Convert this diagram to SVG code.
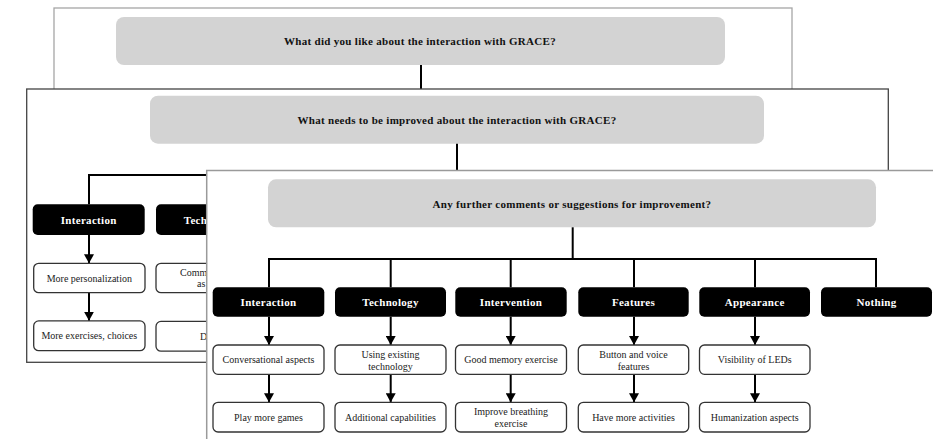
<svg xmlns="http://www.w3.org/2000/svg" width="933" height="439" viewBox="0 0 933 439">
  <defs>
    <marker id="arrow" markerUnits="userSpaceOnUse" markerWidth="10" markerHeight="9" refX="5" refY="8" orient="auto-start-reverse" viewBox="0 0 10 9">
      <path d="M0,0 L10,0 L5,8 Z" transform="rotate(-90 5 4.5) translate(0.5,0.5)" fill="#000"/>
    </marker>
    <marker id="tip" markerUnits="userSpaceOnUse" markerWidth="10" markerHeight="9" refX="5" refY="9" orient="0" viewBox="0 0 10 9">
      <path d="M0,0 L10,0 L5,9 Z" fill="#000"/>
    </marker>
  </defs>
  <style>
    .panel { fill: #fff; }
    .p1 { stroke: #a6a6a6; stroke-width: 1.3; }
    .p2 { stroke: #444; stroke-width: 1.3; }
    .p3 { stroke: #9a9a9a; stroke-width: 1.5; }
    .question { fill: #d3d3d3; }
    .qtext { font-family: "Liberation Serif", "Times New Roman", serif; font-weight: bold; font-size: 11px; letter-spacing: 0.3px; fill: #111; text-anchor: middle; }
    .cat { fill: #000; }
    .cattext { font-family: "Liberation Serif", "Times New Roman", serif; font-weight: bold; font-size: 11px; letter-spacing: 0.3px; fill: #fff; text-anchor: middle; }
    .item { fill: #fff; stroke: #333; stroke-width: 1.3; }
    .itemtext { font-family: "Liberation Serif", "Times New Roman", serif; font-size: 10px; fill: #222; text-anchor: middle; }
    .link { fill: none; stroke: #000; stroke-width: 2; }
    .arr { fill: none; stroke: #000; stroke-width: 2; marker-end: url(#tip); }
  </style>

  <!-- Panel 1: what was liked -->
  <g id="panel-liked">
    <rect class="panel p1" x="54" y="8" width="738" height="120"/>
    <g id="q-liked">
      <rect class="question" x="116" y="17" width="609" height="48" rx="8"/>
      <text class="qtext" x="420" y="45">What did you like about the interaction with GRACE?</text>
    </g>
    <g class="connectors">
      <line class="link" x1="421" y1="65" x2="421" y2="95"/>
    </g>
  </g>

  <!-- Panel 2: what needs improving -->
  <g id="panel-improve">
    <rect class="panel p2" x="26.7" y="89" width="861.6" height="273.3"/>
    <g id="q-improve">
      <rect class="question" x="150" y="95.7" width="614" height="48" rx="8"/>
      <text class="qtext" x="457" y="124">What needs to be improved about the interaction with GRACE?</text>
    </g>
    <g class="connectors">
      <polyline class="link" points="457,143.7 457,175"/>
      <polyline class="link" points="89,204.3 89,175 600,175"/>
      <line class="arr" x1="89" y1="235" x2="89" y2="263.3"/>
      <line class="arr" x1="89" y1="292.7" x2="89" y2="320.7"/>
    </g>
    <g id="p2-interaction">
      <rect class="cat" x="32.7" y="204.3" width="112" height="30.7" rx="5"/>
      <text class="cattext" x="88.7" y="223.5">Interaction</text>
    </g>
    <g id="p2-more-personalization">
      <rect class="item" x="33.7" y="263.3" width="111.3" height="29.4" rx="5"/>
      <text class="itemtext" x="89.3" y="281.5">More personalization</text>
    </g>
    <g id="p2-more-exercises">
      <rect class="item" x="33.7" y="320.9" width="111.3" height="29.8" rx="5"/>
      <text class="itemtext" x="89.3" y="339">More exercises, choices</text>
    </g>
    <g id="p2-technology">
      <rect class="cat" x="156" y="204.3" width="112" height="30.7" rx="5"/>
      <text class="cattext" x="212" y="223.5">Technology</text>
    </g>
    <g id="p2-tech-item1">
      <rect class="item" x="156" y="263.3" width="111.3" height="29.4" rx="5"/>
      <text class="itemtext" x="180" y="276" style="text-anchor:start">Comm</text>
      <text class="itemtext" x="197" y="287" style="text-anchor:start">as</text>
    </g>
    <g id="p2-tech-item2">
      <rect class="item" x="156" y="321.4" width="111.3" height="29.8" rx="5"/>
      <text class="itemtext" x="200" y="339.5" style="text-anchor:start">D</text>
    </g>
  </g>

  <!-- Panel 3: further comments -->
  <g id="panel-further">
    <rect class="panel p3" x="206.7" y="170.5" width="740" height="280"/>
    <g id="q-further">
      <rect class="question" x="268" y="179.3" width="608" height="48" rx="8"/>
      <text class="qtext" x="572" y="208">Any further comments or suggestions for improvement?</text>
    </g>

    <g id="connectors">
      <line class="link" x1="572.7" y1="227.3" x2="572.7" y2="259"/>
      <line class="link" x1="268.5" y1="259" x2="877" y2="259"/>
      <line class="link" x1="269" y1="258" x2="269" y2="287.3"/>
      <line class="link" x1="390.7" y1="258" x2="390.7" y2="287.3"/>
      <line class="link" x1="510.7" y1="258" x2="510.7" y2="287.3"/>
      <line class="link" x1="634" y1="258" x2="634" y2="287.3"/>
      <line class="link" x1="755" y1="258" x2="755" y2="287.3"/>
      <line class="link" x1="876" y1="258" x2="876" y2="287.3"/>
      <line class="arr" x1="269" y1="316.7" x2="269" y2="345"/>
      <line class="arr" x1="269" y1="374.3" x2="269" y2="402.3"/>
      <line class="arr" x1="390.7" y1="316.7" x2="390.7" y2="345"/>
      <line class="arr" x1="390.7" y1="374.3" x2="390.7" y2="402.3"/>
      <line class="arr" x1="510.7" y1="316.7" x2="510.7" y2="345"/>
      <line class="arr" x1="510.7" y1="374.3" x2="510.7" y2="402.3"/>
      <line class="arr" x1="634" y1="316.7" x2="634" y2="345"/>
      <line class="arr" x1="634" y1="374.3" x2="634" y2="402.3"/>
      <line class="arr" x1="755" y1="316.7" x2="755" y2="345"/>
      <line class="arr" x1="755" y1="374.3" x2="755" y2="402.3"/>
    </g>

    <g id="c-interaction">
      <rect class="cat" x="212.7" y="287.3" width="111.6" height="29.4" rx="5"/>
      <text class="cattext" x="268.5" y="306">Interaction</text>
    </g>
    <g id="c-technology">
      <rect class="cat" x="335" y="287.3" width="111" height="29.4" rx="5"/>
      <text class="cattext" x="390.5" y="306">Technology</text>
    </g>
    <g id="c-intervention">
      <rect class="cat" x="455.3" y="287.3" width="111.4" height="29.4" rx="5"/>
      <text class="cattext" x="511" y="306">Intervention</text>
    </g>
    <g id="c-features">
      <rect class="cat" x="578.3" y="287.3" width="110.4" height="29.4" rx="5"/>
      <text class="cattext" x="633.5" y="306">Features</text>
    </g>
    <g id="c-appearance">
      <rect class="cat" x="699.3" y="287.3" width="110.7" height="29.4" rx="5"/>
      <text class="cattext" x="754.7" y="306">Appearance</text>
    </g>
    <g id="c-nothing">
      <rect class="cat" x="821" y="287.3" width="111" height="29.4" rx="5"/>
      <text class="cattext" x="876.5" y="306">Nothing</text>
    </g>

    <g id="i-conversational">
      <rect class="item" x="213" y="345" width="111" height="29.3" rx="5"/>
      <text class="itemtext" x="268.5" y="363">Conversational aspects</text>
    </g>
    <g id="i-play-games">
      <rect class="item" x="213" y="402.3" width="111" height="29.7" rx="5"/>
      <text class="itemtext" x="268.5" y="420.5">Play more games</text>
    </g>
    <g id="i-existing-tech">
      <rect class="item" x="335" y="345" width="111" height="29.3" rx="5"/>
      <text class="itemtext" x="390.5" y="358">Using existing</text>
      <text class="itemtext" x="390.5" y="369.5">technology</text>
    </g>
    <g id="i-capabilities">
      <rect class="item" x="335" y="402.3" width="111" height="29.7" rx="5"/>
      <text class="itemtext" x="390.5" y="420.5">Additional capabilities</text>
    </g>
    <g id="i-memory">
      <rect class="item" x="455.5" y="345" width="111" height="29.3" rx="5"/>
      <text class="itemtext" x="511" y="363">Good memory exercise</text>
    </g>
    <g id="i-breathing">
      <rect class="item" x="455.5" y="402.3" width="111" height="29.7" rx="5"/>
      <text class="itemtext" x="511" y="415">Improve breathing</text>
      <text class="itemtext" x="511" y="426.5">exercise</text>
    </g>
    <g id="i-button-voice">
      <rect class="item" x="578.3" y="345" width="110.4" height="29.3" rx="5"/>
      <text class="itemtext" x="633.5" y="358">Button and voice</text>
      <text class="itemtext" x="633.5" y="369.5">features</text>
    </g>
    <g id="i-activities">
      <rect class="item" x="578.3" y="402.3" width="110.4" height="29.7" rx="5"/>
      <text class="itemtext" x="633.5" y="420.5">Have more activities</text>
    </g>
    <g id="i-leds">
      <rect class="item" x="699.5" y="345" width="110.5" height="29.3" rx="5"/>
      <text class="itemtext" x="754.7" y="363">Visibility of LEDs</text>
    </g>
    <g id="i-humanization">
      <rect class="item" x="699.5" y="402.3" width="110.5" height="29.7" rx="5"/>
      <text class="itemtext" x="754.7" y="420.5">Humanization aspects</text>
    </g>
  </g>
</svg>
